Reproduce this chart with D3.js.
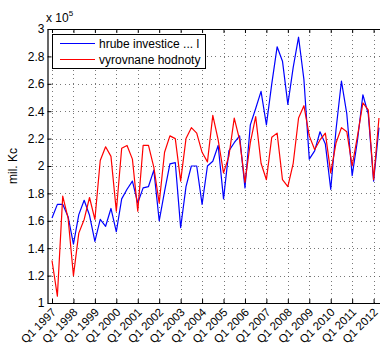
<!DOCTYPE html>
<html>
<head>
<meta charset="utf-8">
<script src="https://cdn.jsdelivr.net/npm/d3@7"></script>
<style>
  html, body { margin: 0; padding: 0; background: #fff; }
  svg { display: block; font-family: "Liberation Sans", Arial, sans-serif; }
</style>
</head>
<body>
<svg id="chart" width="380" height="347"></svg>
<script>
// Quarterly series (units of 1e5 mil. Kc), starting Q1 1997
const startYear = 1997;
const hrubeInvestice = [
  1.62, 1.72, 1.72, 1.63, 1.43, 1.645, 1.75, 1.64,
  1.45, 1.61, 1.56, 1.69, 1.52, 1.76, 1.83, 1.89,
  1.73, 1.84, 1.85, 1.97, 1.60, 1.815, 2.015, 2.025,
  1.55, 1.85, 2.00, 2.00, 1.72, 2.00, 2.035, 2.15,
  1.76, 2.11, 2.17, 2.22, 1.84, 2.30, 2.42, 2.545,
  2.30, 2.60, 2.87, 2.765, 2.45, 2.72, 2.94, 2.63,
  2.05, 2.11, 2.25, 2.16, 1.83, 2.27, 2.62, 2.38,
  1.93, 2.19, 2.52, 2.38, 1.89, 2.28
];
const vyrovnaneHodnoty = [
  1.31, 1.05, 1.78, 1.62, 1.20, 1.51, 1.61, 1.77,
  1.61, 2.04, 2.14, 2.07, 1.67, 2.13, 2.15, 2.05,
  1.67, 2.15, 2.15, 1.99, 1.73, 2.10, 2.22, 2.20,
  1.89, 2.20, 2.28, 2.24, 2.10, 2.03, 2.37, 2.19,
  1.95, 2.07, 2.35, 2.19, 1.88, 2.17, 2.36, 2.02,
  1.90, 2.21, 2.24, 1.90, 1.85, 2.02, 2.35, 2.44,
  2.22, 2.12, 2.19, 2.24, 1.95, 2.17, 2.28, 2.25,
  2.00, 2.22, 2.46, 2.41, 1.90, 2.35
];
const yTicks = [1, 1.2, 1.4, 1.6, 1.8, 2, 2.2, 2.4, 2.6, 2.8, 3];
const tickYears = d3.range(1997, 2013);
const tickLabels = tickYears.map(y => "Q1 " + y);
const seriesNames = ["hrube investice ... l", "vyrovnane hodnoty"];
const blue = "#0000ff", red = "#ff0000";

const svg = d3.select("#chart");
const plot = { left: 47.5, top: 29, bottom: 303 };

// quarter index -> x; the axes box runs past the right edge of the canvas
const x = d3.scaleLinear().domain([-0.84, 64]).range([plot.left, plot.left + 64.84 * 5.36]);
const y = d3.scaleLinear().domain([1, 3]).range([plot.bottom, plot.top]);
const plotRight = x(64);

svg.append("defs").append("clipPath").attr("id", "clip")
  .append("rect").attr("x", plot.left).attr("y", plot.top)
  .attr("width", plotRight - plot.left).attr("height", plot.bottom - plot.top);

const tickIdx = tickYears.map(yr => (yr - startYear) * 4);

// dotted grid
const grid = svg.append("g").attr("stroke", "#555").attr("stroke-width", 0.8)
  .attr("stroke-dasharray", "1,3.3").attr("shape-rendering", "crispEdges");
grid.selectAll("line.v").data(tickIdx).join("line").attr("class", "v")
  .attr("x1", d => Math.round(x(d)) + 0.5).attr("x2", d => Math.round(x(d)) + 0.5)
  .attr("y1", plot.bottom).attr("y2", plot.top);
grid.selectAll("line.h").data(yTicks.slice(1, -1)).join("line").attr("class", "h")
  .attr("y1", d => Math.round(y(d)) + 0.5).attr("y2", d => Math.round(y(d)) + 0.5)
  .attr("x1", plot.left).attr("x2", plotRight);

// axes with inward ticks
const xAxisB = d3.axisBottom(x).tickValues(tickIdx).tickSizeInner(-4).tickSizeOuter(0).tickFormat("");
const xAxisT = d3.axisTop(x).tickValues(tickIdx).tickSizeInner(-4).tickSizeOuter(0).tickFormat("");
const yAxisL = d3.axisLeft(y).tickValues(yTicks).tickSizeInner(-4).tickSizeOuter(0)
  .tickFormat(d => d3.format("~g")(d)).tickPadding(3);

const gB = svg.append("g").attr("transform", `translate(0,${plot.bottom})`).call(xAxisB);
const gT = svg.append("g").attr("transform", `translate(0,${plot.top})`).call(xAxisT);
const gL = svg.append("g").attr("transform", `translate(${plot.left},0)`).call(yAxisL);
[gB, gT, gL].forEach(g => {
  g.selectAll("path.domain").attr("stroke", "#000").attr("stroke-width", 1.2);
  g.selectAll(".tick line").attr("stroke", "#000");
});
gL.selectAll(".tick text").attr("font-size", 12).attr("fill", "#000")
  .attr("font-family", "Liberation Sans, Arial, sans-serif");

// rotated quarter labels
svg.append("g").selectAll("text").data(tickIdx).join("text")
  .attr("transform", (d) => `translate(${x(d) + 2},${plot.bottom + 7}) rotate(-45)`)
  .attr("text-anchor", "end").attr("dy", "0.35em")
  .attr("font-size", 11.5).attr("fill", "#000")
  .text((d, i) => tickLabels[i]);

// exponent label
const expo = svg.append("text").attr("x", 46).attr("y", 22).attr("font-size", 12).attr("fill", "#000");
expo.append("tspan").text("x 10");
expo.append("tspan").attr("dy", -6).attr("font-size", 8).text("5");

// y-axis title
svg.append("text").attr("transform", `translate(17,${(plot.top + plot.bottom) / 2}) rotate(-90)`)
  .attr("text-anchor", "middle").attr("font-size", 12).attr("fill", "#000").text("mil. Kc");

// series lines (blue first, red on top)
const line = d3.line().x((d, i) => x(i)).y(d => y(d));
const lines = svg.append("g").attr("clip-path", "url(#clip)");
lines.append("path").datum(hrubeInvestice).attr("d", line).attr("fill", "none")
  .attr("stroke", blue).attr("stroke-width", 1.2).attr("stroke-linejoin", "round");
lines.append("path").datum(vyrovnaneHodnoty).attr("d", line).attr("fill", "none")
  .attr("stroke", red).attr("stroke-width", 1.2).attr("stroke-linejoin", "round");

// legend
const leg = svg.append("g");
leg.append("rect").attr("x", 52.5).attr("y", 34.5).attr("width", 153).attr("height", 34)
  .attr("fill", "#fff").attr("stroke", "#000").attr("stroke-width", 1);
const legColors = [blue, red];
seriesNames.forEach((nm, k) => {
  const cy = 43.5 + k * 16;
  leg.append("line").attr("x1", 60).attr("x2", 95).attr("y1", cy).attr("y2", cy)
    .style("stroke", legColors[k]).attr("stroke-width", 1.2);
  leg.append("text").attr("x", 99).attr("y", cy).attr("dy", "0.35em")
    .attr("font-size", 12).attr("fill", "#000").text(nm);
});
</script>
</body>
</html>
